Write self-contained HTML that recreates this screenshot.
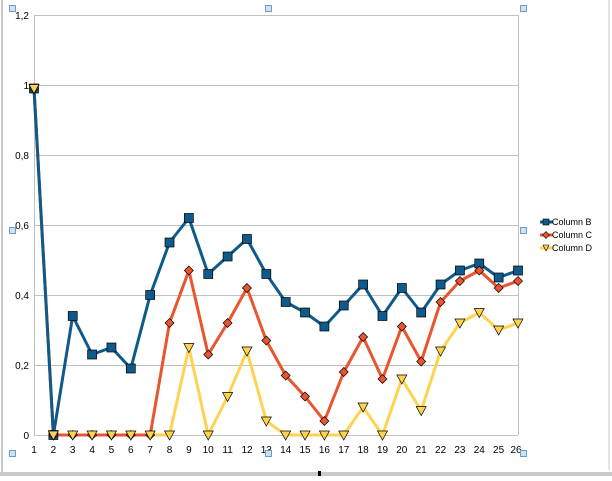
<!DOCTYPE html>
<html><head><style>
body{margin:0;background:#fff;}
svg text{font-family:"Liberation Sans",sans-serif;font-size:10px;fill:#000;}
</style></head><body>
<svg id="s" width="612" height="476" xmlns="http://www.w3.org/2000/svg">
<rect x="0" y="0" width="612" height="476" fill="#fff"/>
<line x1="2" y1="0" x2="2" y2="476" stroke="#c8c8c8" stroke-width="2"/>
<rect x="0" y="472" width="612" height="4" fill="#c8c8c8"/>
<rect x="318" y="471" width="3" height="5" fill="#000"/>
<line x1="609" y1="0" x2="609" y2="470" stroke="#c8c8c8" stroke-width="1"/>
<g stroke="#c0c0c0" stroke-width="1">
<line x1="34" y1="15.5" x2="518" y2="15.5"/>
<line x1="34" y1="85.5" x2="518" y2="85.5"/>
<line x1="34" y1="155.5" x2="518" y2="155.5"/>
<line x1="34" y1="225.5" x2="518" y2="225.5"/>
<line x1="34" y1="295.5" x2="518" y2="295.5"/>
<line x1="34" y1="365.5" x2="518" y2="365.5"/>
<line x1="34" y1="435.5" x2="518" y2="435.5"/>
<line x1="34.5" y1="15" x2="34.5" y2="435"/>
<line x1="518.5" y1="15" x2="518.5" y2="435"/>
</g>
<g text-anchor="end">
<text x="29" y="19">1,2</text>
<text x="29" y="89">1</text>
<text x="29" y="159">0,8</text>
<text x="29" y="229">0,6</text>
<text x="29" y="299">0,4</text>
<text x="29" y="369">0,2</text>
<text x="29" y="439">0</text>
</g>
<g id="xl" text-anchor="middle">
<text x="34.0" y="453">1</text><text x="53.4" y="453">2</text><text x="72.7" y="453">3</text><text x="92.1" y="453">4</text><text x="111.4" y="453">5</text><text x="130.8" y="453">6</text><text x="150.2" y="453">7</text><text x="169.5" y="453">8</text><text x="188.9" y="453">9</text><text x="208.2" y="453">10</text><text x="227.6" y="453">11</text><text x="247.0" y="453">12</text><text x="266.3" y="453">13</text><text x="285.7" y="453">14</text><text x="305.0" y="453">15</text><text x="324.4" y="453">16</text><text x="343.8" y="453">17</text><text x="363.1" y="453">18</text><text x="382.5" y="453">19</text><text x="401.8" y="453">20</text><text x="421.2" y="453">21</text><text x="440.6" y="453">22</text><text x="459.9" y="453">23</text><text x="479.3" y="453">24</text><text x="498.6" y="453">25</text><text x="516.0" y="453">26</text>
</g>
<g id="series"></g>
<g fill="#cfe0f0" stroke="#6a9ccc" stroke-width="1">
<rect x="9.5" y="450.5" width="6" height="6"/><rect x="265.5" y="450.5" width="6" height="6"/><rect x="520.5" y="450.5" width="6" height="6"/>
<rect x="265.5" y="5.5" width="6" height="6"/><rect x="520.5" y="5.5" width="6" height="6"/>
<rect x="520.5" y="227.5" width="6" height="6"/><rect x="9.5" y="227.5" width="6" height="6"/><rect x="9.5" y="5.5" width="6" height="6"/>
</g>
<g>
<line x1="540" y1="222" x2="553" y2="222" stroke="#0e5a8a" stroke-width="3"/>
<rect x="543" y="219" width="6" height="6" fill="#0e5a8a" stroke="#000" stroke-width="0.6"/>
<text x="552" y="225" style="font-size:9px">Column B</text>
<line x1="540" y1="235" x2="553" y2="235" stroke="#e8552f" stroke-width="3"/>
<path d="M546 231.5 L549.5 235 L546 238.5 L542.5 235Z" fill="#e8552f" stroke="#000" stroke-width="0.6"/>
<text x="552" y="238" style="font-size:9px">Column C</text>
<line x1="540" y1="248" x2="553" y2="248" stroke="#ffd34f" stroke-width="3"/>
<path d="M543 245 L549 245 L546 251Z" fill="#ffd34f" stroke="#000" stroke-width="0.6"/>
<text x="552" y="251" style="font-size:9px">Column D</text>
</g>
</svg>
<script>
var B=[0.99,0,0.34,0.23,0.25,0.19,0.40,0.55,0.62,0.46,0.51,0.56,0.46,0.38,0.35,0.31,0.37,0.43,0.34,0.42,0.35,0.43,0.47,0.49,0.45,0.47];
var C=[0.99,0,0,0,0,0,0,0.32,0.47,0.23,0.32,0.42,0.27,0.17,0.11,0.04,0.18,0.28,0.16,0.31,0.21,0.38,0.44,0.47,0.42,0.44];
var D=[0.99,0,0,0,0,0,0,0,0.25,0,0.11,0.24,0.04,0,0,0,0,0.08,0,0.16,0.07,0.24,0.32,0.35,0.30,0.32];
function X(i){return 34+i*19.36;}function Y(v){return 435-v*350;}
var g=document.getElementById('series'),h='';
function line(a,c){var p=a.map(function(v,i){return X(i).toFixed(1)+','+Y(v).toFixed(1)}).join(' ');
h+='<polyline points="'+p+'" fill="none" stroke="'+c+'" stroke-width="3" stroke-linejoin="round"/>';}
line(D,'#ffd34f');line(C,'#e8552f');line(B,'#0e5a8a');
B.forEach(function(v,i){h+='<rect x="'+(X(i)-4.5)+'" y="'+(Y(v)-4.5)+'" width="9" height="9" fill="#0e5a8a" stroke="#000" stroke-width="0.7"/>';});
C.forEach(function(v,i){var x=X(i),y=Y(v);h+='<path d="M'+x+' '+(y-4.5)+' L'+(x+4.5)+' '+y+' L'+x+' '+(y+4.5)+' L'+(x-4.5)+' '+y+'Z" fill="#e8552f" stroke="#000" stroke-width="0.7"/>';});
D.forEach(function(v,i){var x=X(i),y=Y(v);h+='<path d="M'+(x-5)+' '+(y-4)+' L'+(x+5)+' '+(y-4)+' L'+x+' '+(y+5)+'Z" fill="#ffd34f" stroke="#000" stroke-width="0.7"/>';});
g.innerHTML=h;
</script>
</body></html>
